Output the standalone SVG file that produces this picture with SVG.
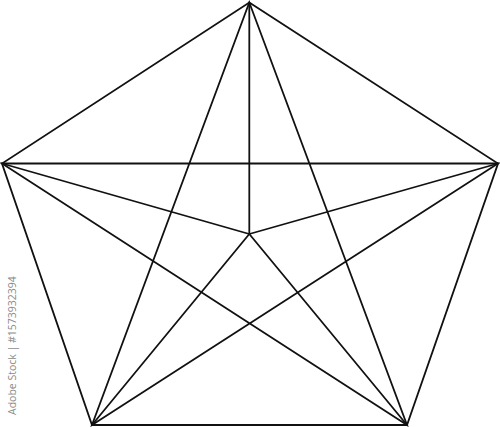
<svg xmlns="http://www.w3.org/2000/svg" width="500" height="427" viewBox="0 0 500 427">
<style>
.l{stroke:#111;stroke-width:1.8;fill:none;stroke-linejoin:miter;stroke-linecap:round}
.wm{font-family:"Open Sans","Liberation Sans",sans-serif;font-size:10.5px;fill:#8a8a8a}
</style>
<rect width="500" height="427" fill="#fff"/>
<g id="connectors">
<polygon id="pentagon" class="l" points="249.3,2.5 498,163.5 407,425 92,425 2,163.5"/>
<polygon id="star" class="l" points="249.3,2.5 407,425 2,163.5 498,163.5 92,425"/>
<line class="l" x1="249.3" y1="2.5" x2="249.3" y2="234"/>
<line class="l" x1="2" y1="163.5" x2="249.3" y2="234"/>
<line class="l" x1="498" y1="163.5" x2="249.3" y2="234"/>
<line class="l" x1="92" y1="425" x2="249.3" y2="234"/>
<line class="l" x1="407" y1="425" x2="249.3" y2="234"/>
</g>
<g id="watermark">
<text class="wm" transform="translate(15.5,415) rotate(-90)">Adobe Stock | #1573932394</text>
</g>
</svg>
